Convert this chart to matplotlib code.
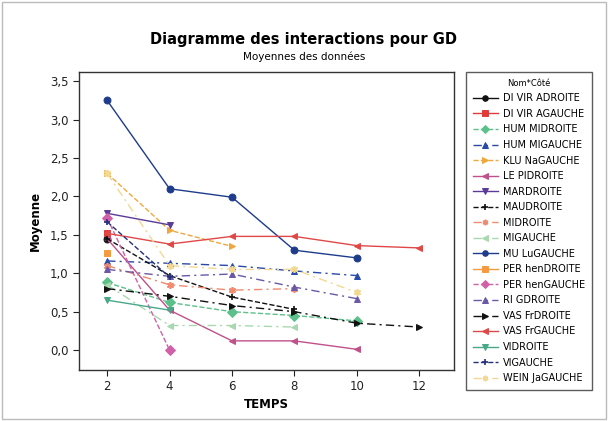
import numpy as np
import matplotlib
matplotlib.use("Agg")
import matplotlib.pyplot as plt
from matplotlib.patches import Rectangle

nan = np.nan
temps = [2, 4, 6, 8, 10, 12]

di_vir_adroite = [1.45, nan, nan, nan, nan, nan]
di_vir_agauche = [1.52, nan, nan, nan, nan, nan]
hum_midroite   = [0.88, 0.62, 0.50, 0.45, 0.38, nan]
hum_migauche   = [1.16, 1.13, 1.10, 1.03, 0.97, nan]
klu_nagauche   = [2.30, 1.56, 1.35, nan, nan, nan]
le_pidroite    = [1.45, 0.52, 0.12, 0.12, 0.01, nan]
mardroite      = [1.78, 1.63, nan, nan, nan, nan]
maudroite      = [1.45, 0.97, 0.69, 0.53, nan, nan]
midroite       = [1.10, 0.85, 0.78, 0.80, nan, nan]
migauche       = [0.85, 0.32, 0.32, 0.30, nan, nan]
mu_lugauche    = [3.25, 2.10, 1.99, 1.30, 1.20, nan]
per_hendroite  = [1.27, nan, nan, nan, nan, nan]
per_hengauche  = [1.72, 0.00, nan, nan, nan, nan]
ri_gdroite     = [1.05, 0.96, 0.99, 0.82, 0.67, nan]
vas_frdroite   = [0.80, 0.70, 0.58, 0.50, 0.35, 0.30]
vas_frgauche   = [1.52, 1.38, 1.48, 1.48, 1.36, 1.33]
vidroite       = [0.65, 0.52, nan, nan, nan, nan]
vigauche       = [1.67, 0.95, nan, nan, nan, nan]
wein_jagauche  = [2.30, 1.10, 1.05, 1.05, 0.75, nan]

labels = ["DI VIR ADROITE", "DI VIR AGAUCHE", "HUM MIDROITE", "HUM MIGAUCHE",
          "KLU NaGAUCHE", "LE PIDROITE", "MARDROITE", "MAUDROITE", "MIDROITE",
          "MIGAUCHE", "MU LuGAUCHE", "PER henDROITE", "PER henGAUCHE",
          "RI GDROITE", "VAS FrDROITE", "VAS FrGAUCHE", "VIDROITE", "VIGAUCHE",
          "WEIN JaGAUCHE"]
values = [di_vir_adroite, di_vir_agauche, hum_midroite, hum_migauche,
          klu_nagauche, le_pidroite, mardroite, maudroite, midroite,
          migauche, mu_lugauche, per_hendroite, per_hengauche,
          ri_gdroite, vas_frdroite, vas_frgauche, vidroite, vigauche,
          wein_jagauche]

asterisk = (6, 2, 0)
dashdot = (0, (6, 3, 1.5, 3))
styles = [
    ("#111111", "o", "-"),
    ("#e03a3a", "s", "-"),
    ("#5cc08a", "D", "--"),
    ("#2a4aa8", "^", dashdot),
    ("#f0a83c", ">", "--"),
    ("#c0508a", "<", "-"),
    ("#5a3c98", "v", "-"),
    ("#111111", "+", "--"),
    ("#f08a70", asterisk, dashdot),
    ("#a8d8b0", "<", dashdot),
    ("#1e3c8c", "o", "-"),
    ("#f59a40", "s", "-"),
    ("#d060a8", "D", "--"),
    ("#6a58a8", "^", dashdot),
    ("#111111", ">", dashdot),
    ("#e04848", "<", "-"),
    ("#48a888", "v", "-"),
    ("#24307a", "+", "--"),
    ("#f2d890", asterisk, dashdot),
]

fig = plt.figure(figsize=(6.08, 4.21), dpi=100)
fig.patch.set_facecolor("white")
fig.patches.append(Rectangle((0.004, 0.005), 0.992, 0.99, transform=fig.transFigure,
                             fill=False, edgecolor="#bbbbbb", lw=1.0))

ax = fig.add_axes([0.130, 0.121, 0.617, 0.708])
x = np.array(temps, dtype=float)
handles = []
for lab, vals, (c, m, ls) in zip(labels, values, styles):
    y = np.array(vals, dtype=float)
    mask = ~np.isnan(y)
    h, = ax.plot(x[mask], y[mask], color=c, marker=m, linestyle=ls, lw=1.0,
                 markersize=5, markeredgewidth=1.2 if m in ("+", asterisk) else 0.7,
                 label=lab)
    handles.append(h)

ax.set_xlim(1.10, 13.12)
ax.set_ylim(-0.26, 3.62)
ax.set_xticks([2, 4, 6, 8, 10, 12])
ax.set_yticks([0, 0.5, 1, 1.5, 2, 2.5, 3, 3.5])
ax.set_yticklabels(["0,0", "0,5", "1,0", "1,5", "2,0", "2,5", "3,0", "3,5"])
ax.tick_params(labelsize=8.5, colors="#222222", length=4)
for s in ax.spines.values():
    s.set_color("#333333")
    s.set_linewidth(1.0)
ax.set_xlabel("TEMPS", fontsize=8.5, fontweight="bold", labelpad=3)
ax.set_ylabel("Moyenne", fontsize=8.5, fontweight="bold", labelpad=6)

fig.text(0.500, 0.905, "Diagramme des interactions pour GD", ha="center",
         va="center", fontsize=10.5, fontweight="bold")
fig.text(0.500, 0.865, "Moyennes des données", ha="center", va="center", fontsize=7.5)

leg = fig.legend(handles=handles, labels=labels, loc="upper left",
                 bbox_to_anchor=(0.766, 0.829), bbox_transform=fig.transFigure,
                 borderaxespad=0,
                 title="Nom*Côté", title_fontsize=6, fontsize=7.0,
                 frameon=True, fancybox=False, edgecolor="#333333",
                 handlelength=2.6, labelspacing=0.57, borderpad=0.7,
                 handletextpad=0.5, markerscale=0.8)
leg.get_frame().set_linewidth(1.0)

fig.savefig("out.png", dpi=100, facecolor="white")
